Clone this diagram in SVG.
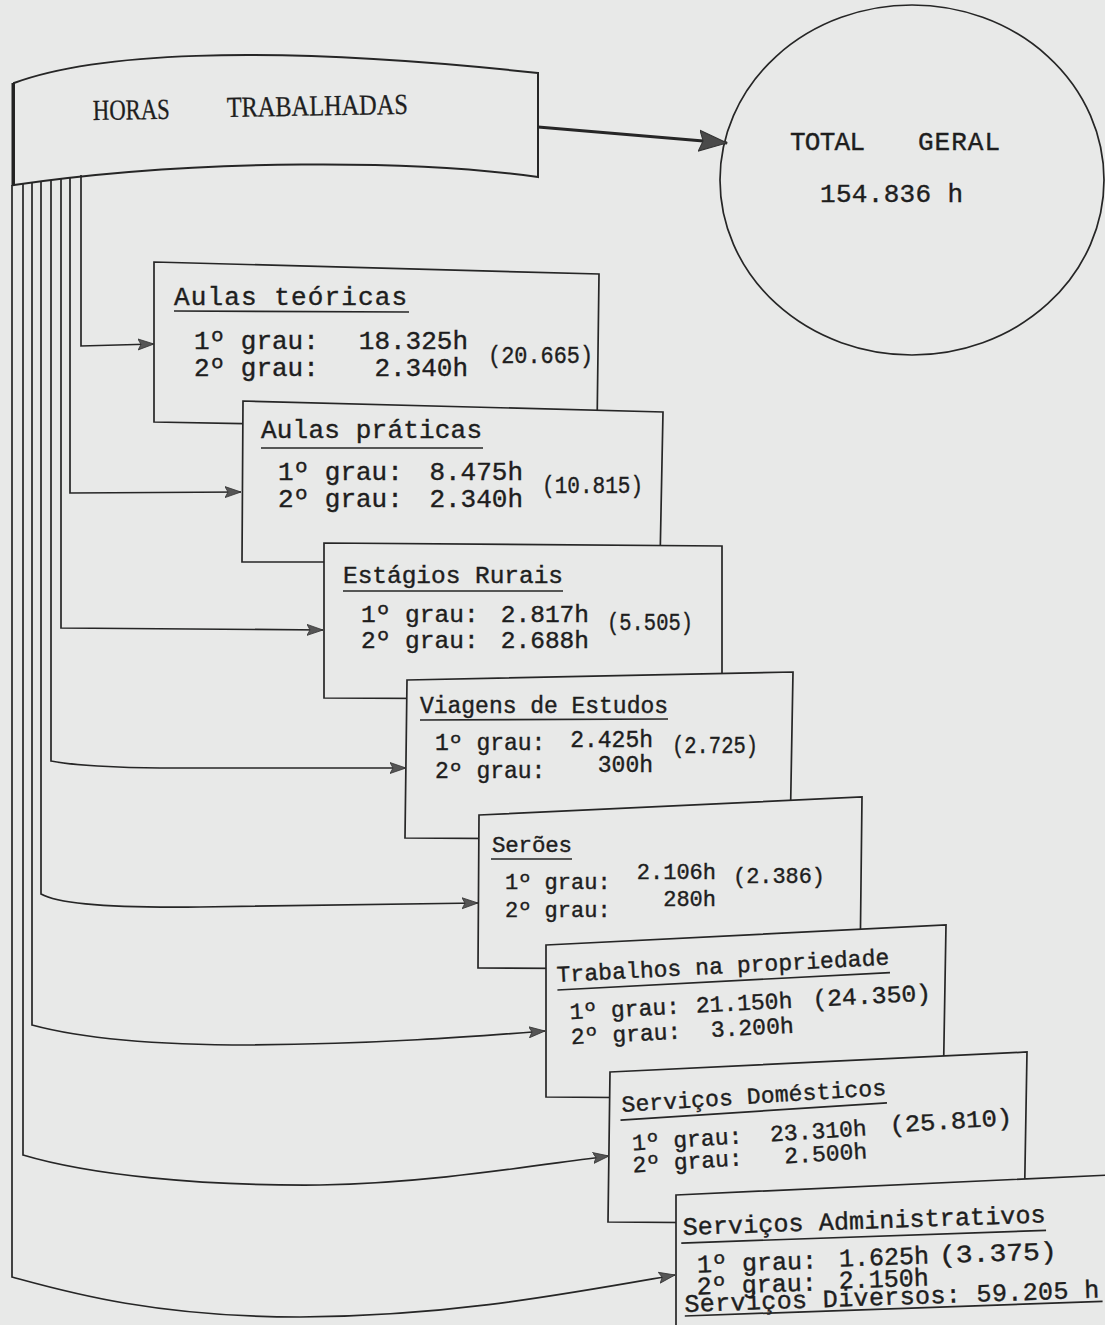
<svg xmlns="http://www.w3.org/2000/svg" width="1105" height="1325" viewBox="0 0 1105 1325">
<style>
.bg{fill:#e8e9e8}
.box{fill:#e8e9e8;stroke:#262626;stroke-width:1.7;stroke-linejoin:miter}
.tw{font-family:"Liberation Mono","Courier New",monospace;fill:#1e1e1e;stroke:#1e1e1e;stroke-width:0.4}
.serif{font-family:"Liberation Serif","Times New Roman",serif;fill:#1e1e1e;stroke:#1e1e1e;stroke-width:0.3}
.ul{stroke:#262626;stroke-width:1.7;fill:none}
.conn{fill:none;stroke:#262626;stroke-width:1.7;marker-end:url(#ah)}
</style>
<defs>
<marker id="ah" markerUnits="userSpaceOnUse" markerWidth="17" markerHeight="13" refX="16" refY="6.5" orient="auto"><path d="M0,1 L16,6.5 L0,12 L3,6.5 Z" fill="#555" stroke="#333" stroke-width="0.8"/></marker>
<marker id="ahBig" markerUnits="userSpaceOnUse" markerWidth="29" markerHeight="23" refX="28" refY="11.5" orient="auto"><path d="M0,1 L28,11.5 L0,22 L4,11.5 Z" fill="#4a4a4a" stroke="#333" stroke-width="1"/></marker>
</defs>
<rect class="bg" x="0" y="0" width="1105" height="1325"/>

<g id="horas-trabalhadas">
<path d="M14,83 C90,55 250,42 538,73 L538,177 C420,160 200,158 14,185 Z" fill="#e8e9e8" stroke="#262626" stroke-width="2"/>
<line x1="13" y1="83" x2="13" y2="186" stroke="#222" stroke-width="3"/>
<text class="serif" x="93" y="120" font-size="29" textLength="77" lengthAdjust="spacingAndGlyphs" transform="rotate(-1 93 120)">HORAS</text>
<text class="serif" x="227" y="117" font-size="29" textLength="181" lengthAdjust="spacingAndGlyphs" transform="rotate(-1 227 117)">TRABALHADAS</text>
</g>

<g id="total-geral">
<ellipse cx="912" cy="180" rx="192" ry="175" fill="#e8e9e8" stroke="#262626" stroke-width="1.7"/>
<text class="tw" x="790" y="150" font-size="26" textLength="75">TOTAL</text>
<text class="tw" x="918" y="150" font-size="26" textLength="82">GERAL</text>
<text class="tw" x="820" y="202" font-size="26" textLength="143">154.836 h</text>
</g>

<g id="aulas-teoricas">
<path class="box" d="M154,262 L599,274 L597,430 L154,422 Z"/>
<text class="tw" x="174" y="305" font-size="26" textLength="233">Aulas teóricas</text>
<path class="ul" d="M174,311 L409,312"/>
<text class="tw" x="194" y="349" font-size="26">1º grau:</text>
<text class="tw" x="468" y="349" font-size="26" text-anchor="end">18.325h</text>
<text class="tw" x="194" y="376" font-size="26">2º grau:</text>
<text class="tw" x="468" y="376" font-size="26" text-anchor="end">2.340h</text>
<text class="tw" x="488" y="363" font-size="24" textLength="105" lengthAdjust="spacingAndGlyphs">(20.665)</text>
</g>

<g id="aulas-praticas">
<path class="box" d="M243,401 L663,412 L660,562 L242,562 Z"/>
<text class="tw" x="261" y="438" font-size="26" textLength="221">Aulas práticas</text>
<path class="ul" d="M261,448 L483,448"/>
<text class="tw" x="278" y="480" font-size="26">1º grau:</text>
<text class="tw" x="523" y="480" font-size="26" text-anchor="end">8.475h</text>
<text class="tw" x="278" y="507" font-size="26">2º grau:</text>
<text class="tw" x="523" y="507" font-size="26" text-anchor="end">2.340h</text>
<text class="tw" x="542" y="493" font-size="24" textLength="101" lengthAdjust="spacingAndGlyphs">(10.815)</text>
</g>

<g id="estagios-rurais">
<path class="box" d="M324,543 L722,546 L722,700 L324,698 Z"/>
<text class="tw" x="343" y="583" font-size="24.5" textLength="220">Estágios Rurais</text>
<path class="ul" d="M343,591 L563,591"/>
<text class="tw" x="361" y="622" font-size="24.5">1º grau:</text>
<text class="tw" x="589" y="622" font-size="24.5" text-anchor="end">2.817h</text>
<text class="tw" x="361" y="648" font-size="24.5">2º grau:</text>
<text class="tw" x="589" y="648" font-size="24.5" text-anchor="end">2.688h</text>
<text class="tw" x="607" y="630" font-size="24" textLength="86" lengthAdjust="spacingAndGlyphs">(5.505)</text>
</g>

<g id="viagens-de-estudos">
<path class="box" d="M407,680 L793,672 L790,840 L405,838 Z"/>
<text class="tw" x="420" y="713" font-size="23" textLength="248">Viagens de Estudos</text>
<path class="ul" d="M420,720 L668,719"/>
<text class="tw" x="435" y="750" font-size="23">1º grau:</text>
<text class="tw" x="653" y="747" font-size="23" text-anchor="end">2.425h</text>
<text class="tw" x="435" y="778" font-size="23">2º grau:</text>
<text class="tw" x="653" y="772" font-size="23" text-anchor="end">300h</text>
<text class="tw" x="672" y="753" font-size="23" textLength="86" lengthAdjust="spacingAndGlyphs">(2.725)</text>
</g>

<g id="seroes">
<path class="box" d="M479,815 L862,797 L860,970 L478,968 Z"/>
<text class="tw" x="492" y="852" font-size="22.5" textLength="80">Serões</text>
<path class="ul" d="M491,859 L572,859"/>
<text class="tw" x="505" y="889" font-size="22">1º grau:</text>
<text class="tw" x="716" y="879" font-size="22" text-anchor="end">2.106h</text>
<text class="tw" x="505" y="917" font-size="22">2º grau:</text>
<text class="tw" x="716" y="906" font-size="22" text-anchor="end">280h</text>
<text class="tw" x="733" y="883" font-size="22.5" textLength="92" lengthAdjust="spacingAndGlyphs">(2.386)</text>
</g>

<g id="trabalhos-na-propriedade">
<path class="box" d="M546,945 L946,925 L943,1100 L546,1097 Z"/>
<g transform="rotate(-3 557 982)">
<text class="tw" x="557" y="982" font-size="23" textLength="333">Trabalhos na propriedade</text>
<path class="ul" d="M557,990 L890,990"/>
<text class="tw" x="568" y="1020" font-size="23">1º grau:</text>
<text class="tw" x="791" y="1020" font-size="23" text-anchor="end">21.150h</text>
<text class="tw" x="811" y="1020" font-size="24" textLength="119" lengthAdjust="spacingAndGlyphs">(24.350)</text>
<text class="tw" x="568" y="1045" font-size="23">2º grau:</text>
<text class="tw" x="791" y="1045" font-size="23" text-anchor="end">3.200h</text>
</g>
</g>

<g id="servicos-domesticos">
<path class="box" d="M610,1072 L1027,1052 L1024,1225 L608,1222 Z"/>
<g transform="rotate(-3.7 622 1112)">
<text class="tw" x="622" y="1112" font-size="23" textLength="265">Serviços Domésticos</text>
<path class="ul" d="M620,1120 L887,1120"/>
<text class="tw" x="630" y="1151" font-size="23">1º grau:</text>
<text class="tw" x="865" y="1151" font-size="23" text-anchor="end">23.310h</text>
<text class="tw" x="888" y="1150" font-size="24" textLength="123" lengthAdjust="spacingAndGlyphs">(25.810)</text>
<text class="tw" x="629" y="1173" font-size="23">2º grau:</text>
<text class="tw" x="864" y="1174" font-size="23" text-anchor="end">2.500h</text>
</g>
</g>

<g id="servicos-administrativos">
<path class="box" d="M676,1195 L1110,1175 L1110,1330 L676,1330 Z"/>
<g transform="rotate(-2 683 1235)">
<text class="tw" x="683" y="1235" font-size="25" textLength="363">Serviços Administrativos</text>
<path class="ul" d="M681,1243 L1046,1243"/>
<text class="tw" x="696" y="1273" font-size="25">1º grau:</text>
<text class="tw" x="928" y="1272" font-size="25" text-anchor="end">1.625h</text>
<text class="tw" x="938" y="1272" font-size="25" textLength="118" lengthAdjust="spacingAndGlyphs">(3.375)</text>
<text class="tw" x="695" y="1295" font-size="25">2º grau:</text>
<text class="tw" x="927" y="1294" font-size="25" text-anchor="end">2.150h</text>
<text class="tw" x="682" y="1312" font-size="25" textLength="415">Serviços Diversos: 59.205 h</text>
<path class="ul" d="M682,1316 L1100,1316"/>
</g>
</g>

<g id="connectors">
<path d="M538,127 L727,143" fill="none" stroke="#262626" stroke-width="3" marker-end="url(#ahBig)"/>
<path class="conn" d="M81,175 V346 L154,344"/>
<path class="conn" d="M70,177 V493 L241,492"/>
<path class="conn" d="M61,178 V628 L323,630"/>
<path class="conn" d="M51,180 V761 C70,765 120,768 160,768 L406,768"/>
<path class="conn" d="M41,181 V894 C60,905 120,908 200,907 L478,903"/>
<path class="conn" d="M32,182 V1025 C80,1038 150,1045 250,1045 C380,1044 480,1036 545,1031"/>
<path class="conn" d="M23,184 V1155 C90,1175 200,1186 320,1185 C430,1183 530,1166 609,1156"/>
<path class="conn" d="M12,185 V1277 C60,1290 150,1317 300,1317 C450,1316 560,1295 675,1275" stroke-width="3"/>
</g>
</svg>
